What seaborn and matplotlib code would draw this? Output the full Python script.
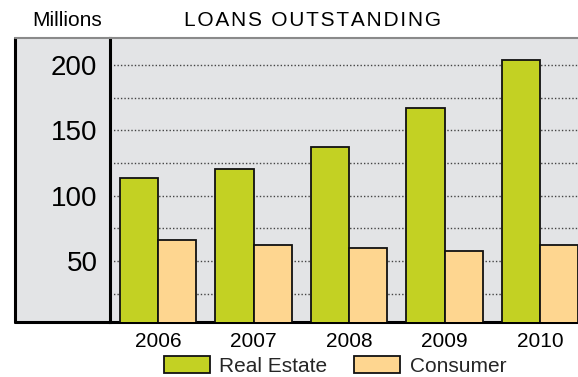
import matplotlib
matplotlib.use("Agg")
import matplotlib.pyplot as plt
from matplotlib.patches import Rectangle
import seaborn as sns
import pandas as pd

years = ["2006", "2007", "2008", "2009", "2010"]
real_estate = [113.5, 120.5, 137.5, 167.5, 204.0]
consumer = [66.0, 62.5, 60.0, 58.0, 62.5]
series_names = ["Real Estate", "Consumer"]
y_ticks = [50, 100, 150, 200]
y_minor = [25, 75, 125, 175]

df = pd.DataFrame({
    "year": years * 2,
    "value": real_estate + consumer,
    "series": [series_names[0]] * len(years) + [series_names[1]] * len(years),
})

sns.set_theme(style="white")
plt.rcParams["font.family"] = ["Liberation Sans", "DejaVu Sans"]

W, H = 578, 377
fig = plt.figure(figsize=(W / 100, H / 100), dpi=100)
bg = "#E3E4E6"

# left label panel
x0, x1, ytop, ybot = 15, 110, 38, 322
fig.patches.append(Rectangle((x0 / W, 1 - ybot / H), (x1 - x0) / W, (ybot - ytop) / H,
                             transform=fig.transFigure, facecolor=bg,
                             edgecolor="none", zorder=-5))
ax = fig.add_axes([x1 / W, 1 - ybot / H, (W - x1) / W, (ybot - ytop) / H])
ax.set_facecolor(bg)

sns.barplot(data=df, x="year", y="value", hue="series", ax=ax,
            palette=["#C3D123", "#FED690"], width=0.8,
            edgecolor="#111111", linewidth=1.3, saturation=1, zorder=3)

ax.set_xlim(-0.503, 4.398)
ax.set_ylim(3.4, 220.7)
ax.set_yticks(y_ticks)
ax.set_yticks(y_minor, minor=True)
ax.set_yticklabels([str(v) for v in y_ticks], fontsize=20)
ax.tick_params(axis="y", which="both", length=0, pad=9, labelcolor="black")
ax.tick_params(axis="x", length=0, pad=7, labelsize=15, labelcolor="black")
ax.grid(True, axis="y", which="both", linestyle=(0, (1, 1.5)), color="#444444", linewidth=1)
ax.set_axisbelow(True)
ax.set_xlabel("")
ax.set_ylabel("")

for s in ["left", "bottom"]:
    ax.spines[s].set_color("black")
    ax.spines[s].set_linewidth(2.2)
ax.spines["right"].set_visible(False)
ax.spines["top"].set_color("#8a8a8a")
ax.spines["top"].set_linewidth(1.5)

# outer frame of the label panel
fig.lines.append(plt.Line2D([x0 / W, x0 / W], [1 - ybot / H, 1 - ytop / H],
                            transform=fig.transFigure, color="black", lw=2.2))
fig.lines.append(plt.Line2D([x0 / W, x1 / W], [1 - ybot / H, 1 - ybot / H],
                            transform=fig.transFigure, color="black", lw=2.2))
fig.lines.append(plt.Line2D([x0 / W, x1 / W], [1 - ytop / H, 1 - ytop / H],
                            transform=fig.transFigure, color="#8a8a8a", lw=1.5))

handles, labels = ax.get_legend_handles_labels()
ax.get_legend().remove()
fig.legend(handles, labels, loc="center", bbox_to_anchor=(335 / W, 1 - 366 / H),
           ncol=2, frameon=False, fontsize=15, handlelength=2.2, handleheight=0.85,
           handletextpad=0.45, columnspacing=1.3, borderpad=0, borderaxespad=0)

hs = "\u200a"
title = hs.join(list("LOANS OUTSTANDING"))
fig.text(312 / W, 1 - 21 / H, title, ha="center", va="center", fontsize=15, color="black")
fig.text(32 / W, 1 - 21 / H, "Millions", ha="left", va="center", fontsize=15, color="black")

fig.savefig("out.png", dpi=100)
